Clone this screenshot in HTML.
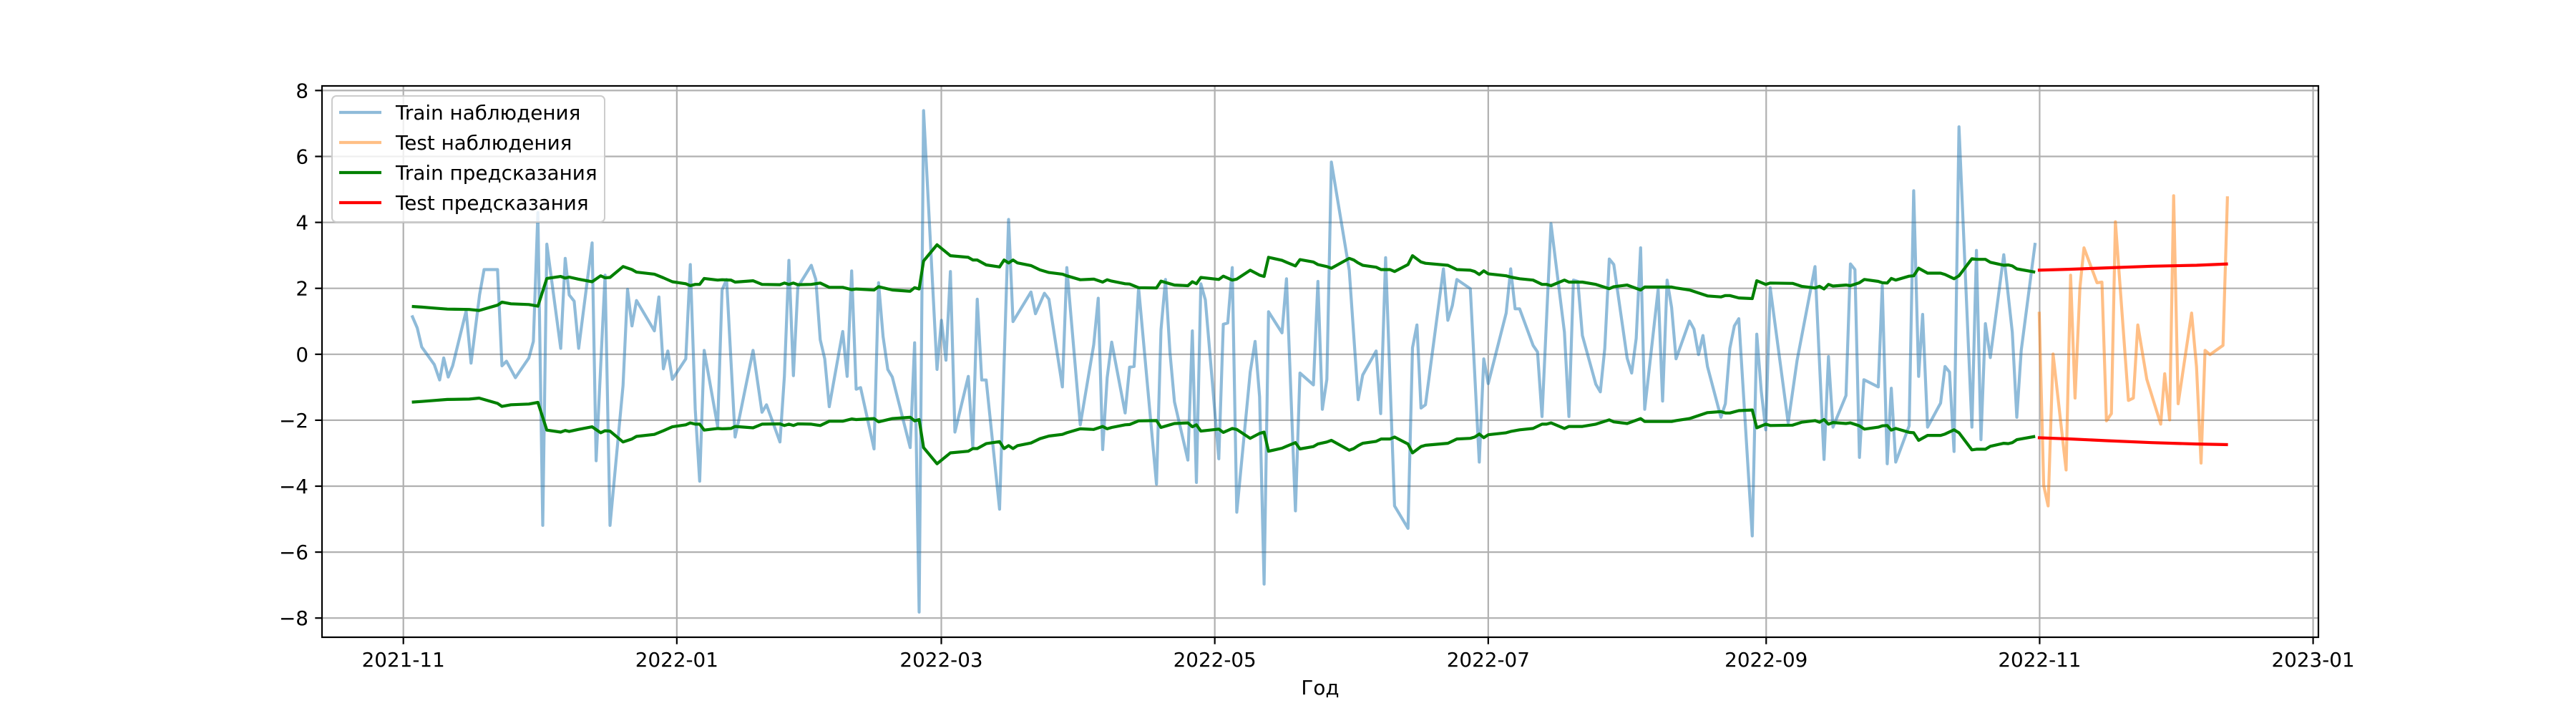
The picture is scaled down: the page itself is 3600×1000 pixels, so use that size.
<!DOCTYPE html>
<html><head><meta charset="utf-8"><style>
html,body{margin:0;padding:0;background:#fff;}
svg{display:block;font-family:"DejaVu Sans","Liberation Sans",sans-serif;}
</style></head><body>
<svg id="chart" width="3600" height="1000" viewBox="0 0 3600 1000" xmlns="http://www.w3.org/2000/svg">
<rect x="0" y="0" width="3600" height="1000" fill="#fff"/>
<g id="grid"></g>
<g id="series"></g>
<rect x="450" y="120" width="2790" height="770" fill="none" stroke="#000" stroke-width="2.2"/>
<g id="ticks"></g>
<text x="1845" y="970" font-size="27.8" text-anchor="middle">Год</text>
<g id="legend">
<rect x="464" y="134" width="381" height="176" rx="6" fill="#fff" fill-opacity="0.8" stroke="#ccc" stroke-width="2"/>
<line x1="474" y1="157" x2="533" y2="157" stroke="#1f77b4" stroke-opacity="0.5" stroke-width="4.2"/>
<text x="553" y="167" font-size="27.8">Train наблюдения</text>
<line x1="474" y1="199" x2="533" y2="199" stroke="#ff7f0e" stroke-opacity="0.5" stroke-width="4.2"/>
<text x="553" y="209" font-size="27.8">Test наблюдения</text>
<line x1="474" y1="241" x2="533" y2="241" stroke="#008000" stroke-width="4.2"/>
<text x="553" y="251" font-size="27.8">Train предсказания</text>
<line x1="474" y1="283" x2="533" y2="283" stroke="#ff0000" stroke-width="4.2"/>
<text x="553" y="293" font-size="27.8">Test предсказания</text>
</g>
</svg>
<script>
// days since 2021-11-01
const trainDays = [1.9,3.1,4.1,6.9,8.1,9,10,11,14,15.1,17,18,21,22,23,25,28,29,30,31.1,32,35.1,36.1,37,38.1,39.1,42.1,43,45,46.1,49,50,51,52,56,57,58,59,60,63,64,65.1,66.1,67.1,70.1,71.1,72.1,74,75,78,80,81,84,85,86,87,88,91,92,93,94,95,98,99,100,101,102,105,106,107,108.06,109.06,113.05,114.05,115.05,116.04,119.04,120.03,121.03,122.03,123.03,126.02,127.02,128.02,129.02,130.01,133,135,136,140,141,143,144,147,148,151,154,155,156,157,158,161,162,163,164,168,169,170,171,172,175,176,176.9,177.9,178.9,181.9,182.9,183.9,184.9,185.9,188.9,190,191,192,193,196,197,199,200,203,204,205,206,207,211,213,214,217,218,219.1,221.1,224.1,225.1,226.1,227,228,232,233,234,235,238,240,241,242,246,247,248,249,252,253,254,256,259,260,261,262,263,266,267,268,269,270,273,274,275,276,276.9,279.9,280.9,281.9,282.9,283.9,286.9,287.9,288.9,289.9,290.9,293.9,294.9,295.9,296.9,297.9,300.9,301.9,302.9,303.9,304.9,308.9,310.9,314.9,316.9,317.9,318.9,321.8,322.8,323.8,324.8,325.8,329,329.9,331,331.9,332.9,335.9,336.9,338,338.9,340,342.9,343.9,344.9,345.9,347,349.9,350.9,351.9,352.9,354,357,358.9,359.9,360.9,364];
const trainVals = [1.18,0.80,0.22,-0.31,-0.78,-0.11,-0.69,-0.35,1.31,-0.27,1.80,2.57,2.57,-0.35,-0.21,-0.71,-0.11,0.39,4.3,-5.19,3.34,0.18,2.91,1.80,1.61,0.18,3.38,-3.23,2.40,-5.19,-0.95,1.97,0.86,1.63,0.71,1.74,-0.44,0.10,-0.76,-0.14,2.72,-1.67,-3.85,0.12,-2.19,1.95,2.27,-2.51,-1.89,0.12,-1.76,-1.53,-2.66,-0.67,2.85,-0.65,2.04,2.70,2.27,0.44,-0.14,-1.59,0.69,-0.67,2.53,-1.06,-1.01,-2.87,2.17,0.54,-0.46,-0.69,-2.83,0.35,-7.82,7.39,-0.46,1.03,-0.18,2.51,-2.36,-0.67,-2.81,1.67,-0.78,-0.78,-4.70,4.09,0.99,1.89,1.23,1.85,1.67,-0.99,2.63,-2.14,0.29,1.70,-2.89,-0.71,0.37,-1.78,-0.39,-0.37,2.02,-3.94,0.74,2.27,0.07,-1.44,-3.21,0.71,-3.89,2.14,1.65,-3.17,0.91,0.95,2.63,-4.79,-0.54,0.39,-1.29,-6.97,1.29,0.65,2.29,-4.75,-0.57,-0.93,2.21,-1.67,-0.76,5.83,2.55,-1.38,-0.63,0.10,-1.80,2.93,-4.60,-5.28,0.20,0.89,-1.63,-1.53,2.59,1.03,1.48,2.27,1.99,-3.27,-0.14,-0.89,1.25,2.59,1.38,1.38,0.27,0.07,-1.89,3.96,0.67,-1.89,2.25,2.21,0.57,-0.91,-1.14,0.18,2.89,2.72,-0.12,-0.57,0.48,3.23,-1.67,1.97,-1.42,2.25,1.42,-0.14,1.01,0.76,-0.01,0.57,-0.37,-1.91,-1.50,0.18,0.86,1.08,-5.51,0.61,-1.12,-2.29,2.02,-2.08,-0.18,2.66,-3.19,-0.07,-2.21,-1.25,2.74,2.57,-3.13,-0.77,-0.99,2.08,-3.32,-1.03,-3.27,-2.17,4.96,-0.67,1.21,-2.21,-1.48,-0.37,-0.54,-2.95,6.90,-2.21,3.15,-2.59,0.93,-0.10,3.02,0.67,-1.91,0.12,3.38];
const testDays = [364.9,365.9,366.9,368,370.9,371.9,372.9,374,374.9,377.8,378.9,379.9,381,381.9,384.8,385.9,386.9,388.9,392,392.9,394,394.9,395.9,398.9,400,401,401.9,403,405.9,406.9];
const testVals = [1.29,-3.98,-4.60,0.01,-3.51,2.40,-1.33,2.04,3.23,2.17,2.19,-2.02,-1.80,4.02,-1.40,-1.33,0.89,-0.76,-2.12,-0.59,-1.99,4.81,-1.50,1.25,-0.39,-3.30,0.12,-0.01,0.27,4.79];
const predDays = [1.9,4.1,6.9,9.8,14.7,16.9,21,22,24,28,30,32,35.1,36.1,37,39,42.1,44,45,46.1,49,51,52,56,58,60,63,64,65.1,66.1,67.1,70.1,71.1,73.1,74,78,80,84,85,86,87,88,91,93,95,98,100,101,105,106,109.1,113.05,114.05,115.05,116.04,119.04,122.03,126.02,127.02,128.02,130,133,134,135,136,137,140,142,144,147,148,151,154,156,157,158,161,162,164,168,169,171,172,175,176,176.9,177.9,181.9,182.9,184.9,185.9,188.9,191,192,193,196,197,199,200,203,204,206,207,211,212,213,214,217,218.1,220.1,221.1,224.1,225.1,227,228,233,235,238,239,240,241,242,246,247,249,252,254,255,256,259,260,263,266,269,270,273,276,276.9,282.9,283.9,286.9,290.9,293.9,294.9,295.9,297.9,300.9,301.9,303.9,304.9,309.9,311.9,314.9,315.9,316.9,317.9,318.9,321.8,322.8,324.8,325.9,329,329.9,331,331.9,332.9,335.9,336.9,338,340,342.9,343.9,345.9,347,349.9,350.9,352.9,354,357,358,358.9,359.9,364];
const predUpper = [1.45,1.43,1.40,1.37,1.36,1.33,1.49,1.58,1.53,1.51,1.46,2.30,2.36,2.31,2.34,2.28,2.20,2.38,2.32,2.33,2.66,2.57,2.49,2.43,2.32,2.20,2.14,2.08,2.12,2.12,2.30,2.25,2.26,2.25,2.19,2.23,2.12,2.11,2.16,2.12,2.16,2.11,2.12,2.16,2.03,2.03,1.96,1.98,1.95,2.05,1.95,1.91,2.02,1.98,2.83,3.32,2.99,2.94,2.86,2.86,2.71,2.65,2.86,2.77,2.86,2.77,2.69,2.56,2.48,2.43,2.38,2.26,2.28,2.19,2.26,2.22,2.14,2.13,2.02,2.01,2.22,2.14,2.10,2.08,2.20,2.14,2.33,2.27,2.37,2.25,2.28,2.55,2.40,2.36,2.94,2.85,2.79,2.68,2.87,2.80,2.72,2.66,2.61,2.91,2.86,2.77,2.70,2.64,2.57,2.57,2.51,2.72,2.99,2.80,2.76,2.70,2.57,2.55,2.51,2.42,2.53,2.44,2.38,2.34,2.29,2.25,2.12,2.12,2.08,2.25,2.19,2.19,2.12,1.99,2.05,2.10,1.95,2.04,2.04,2.01,1.95,1.77,1.74,1.78,1.78,1.71,1.69,2.23,2.12,2.16,2.15,2.06,2.01,2.06,1.98,2.12,2.07,2.10,2.08,2.17,2.27,2.21,2.17,2.16,2.30,2.25,2.37,2.38,2.61,2.46,2.46,2.42,2.29,2.38,2.90,2.88,2.88,2.79,2.70,2.71,2.68,2.59,2.49];
const predLower = [-1.45,-1.43,-1.40,-1.37,-1.36,-1.33,-1.49,-1.58,-1.53,-1.51,-1.46,-2.30,-2.36,-2.31,-2.34,-2.28,-2.20,-2.38,-2.32,-2.33,-2.66,-2.57,-2.49,-2.43,-2.32,-2.20,-2.14,-2.08,-2.12,-2.12,-2.30,-2.25,-2.26,-2.25,-2.19,-2.23,-2.12,-2.11,-2.16,-2.12,-2.16,-2.11,-2.12,-2.16,-2.03,-2.03,-1.96,-1.98,-1.95,-2.05,-1.95,-1.91,-2.02,-1.98,-2.83,-3.32,-2.99,-2.94,-2.86,-2.86,-2.71,-2.65,-2.86,-2.77,-2.86,-2.77,-2.69,-2.56,-2.48,-2.43,-2.38,-2.26,-2.28,-2.19,-2.26,-2.22,-2.14,-2.13,-2.02,-2.01,-2.22,-2.14,-2.10,-2.08,-2.20,-2.14,-2.33,-2.27,-2.37,-2.25,-2.28,-2.55,-2.40,-2.36,-2.94,-2.85,-2.79,-2.68,-2.87,-2.80,-2.72,-2.66,-2.61,-2.91,-2.86,-2.77,-2.70,-2.64,-2.57,-2.57,-2.51,-2.72,-2.99,-2.80,-2.76,-2.70,-2.57,-2.55,-2.51,-2.42,-2.53,-2.44,-2.38,-2.34,-2.29,-2.25,-2.12,-2.12,-2.08,-2.25,-2.19,-2.19,-2.12,-1.99,-2.05,-2.10,-1.95,-2.04,-2.04,-2.01,-1.95,-1.77,-1.74,-1.78,-1.78,-1.71,-1.69,-2.23,-2.12,-2.16,-2.15,-2.06,-2.01,-2.06,-1.98,-2.12,-2.07,-2.10,-2.08,-2.17,-2.27,-2.21,-2.17,-2.16,-2.30,-2.25,-2.37,-2.38,-2.61,-2.46,-2.46,-2.42,-2.29,-2.38,-2.90,-2.88,-2.88,-2.79,-2.70,-2.71,-2.68,-2.59,-2.49];
const testPredDays = [364.6,372,380,390,400,407];
const testPredUpper = [2.55,2.58,2.62,2.67,2.70,2.74];
const testPredLower = [-2.53,-2.57,-2.62,-2.68,-2.72,-2.74];
const xTickDays = [0,61,120,181,242,304,365,426];
const xTickLabels = ['2021-11','2022-01','2022-03','2022-05','2022-07','2022-09','2022-11','2023-01'];
const yTickVals = [-8,-6,-4,-2,0,2,4,6,8];
const yTickLabels = ['−8','−6','−4','−2','0','2','4','6','8'];

const NS = 'http://www.w3.org/2000/svg';
function xs(d){ return 563.7 + d*6.265; }
function ys(v){ return 494.8 - v*46.05; }
function mk(tag, attrs, parent){
  const e = document.createElementNS(NS, tag);
  for (const k in attrs) e.setAttribute(k, attrs[k]);
  parent.appendChild(e);
  return e;
}
const grid = document.getElementById('grid');
const ticks = document.getElementById('ticks');
const series = document.getElementById('series');

xTickDays.forEach((d,i)=>{
  const x = xs(d);
  const g = mk('line',{x1:x,y1:120,x2:x,y2:890,stroke:'#b0b0b0','stroke-width':2.2},grid);
  
  
  const t = mk('line',{x1:x,y1:890,x2:x,y2:899.7,stroke:'#000','stroke-width':2.2},ticks);
  
  
  const l = mk('text',{x:x,y:931,'font-size':27.8,'text-anchor':'middle'},ticks);
  l.textContent = xTickLabels[i];
  
  
});
yTickVals.forEach((v,i)=>{
  const y = ys(v);
  const g = mk('line',{x1:450,y1:y,x2:3240,y2:y,stroke:'#b0b0b0','stroke-width':2.2},grid);
  
  
  const t = mk('line',{x1:440.3,y1:y,x2:450,y2:y,stroke:'#000','stroke-width':2.2},ticks);
  
  
  const l = mk('text',{x:431,y:y+10,'font-size':27.8,'text-anchor':'end'},ticks);
  l.textContent = yTickLabels[i];
  
  
});
function path(days, vals){
  return days.map((d,i)=>(i?'L':'M')+xs(d).toFixed(1)+','+ys(vals[i]).toFixed(1)).join(' ');
}
function line(days, vals, color, op, name){
  const p = mk('path',{d:path(days,vals),fill:'none',stroke:color,'stroke-opacity':op,'stroke-width':4.2,'stroke-linejoin':'round'},series);
  
  
}
line(trainDays, trainVals, '#1f77b4', 0.5, 'train-observations-line');
line(testDays, testVals, '#ff7f0e', 0.5, 'test-observations-line');
line(predDays, predUpper, '#008000', 1, 'train-prediction-upper-line');
line(predDays, predLower, '#008000', 1, 'train-prediction-lower-line');
line(testPredDays, testPredUpper, '#ff0000', 1, 'test-prediction-upper-line');
line(testPredDays, testPredLower, '#ff0000', 1, 'test-prediction-lower-line');
</script>
</body></html>
